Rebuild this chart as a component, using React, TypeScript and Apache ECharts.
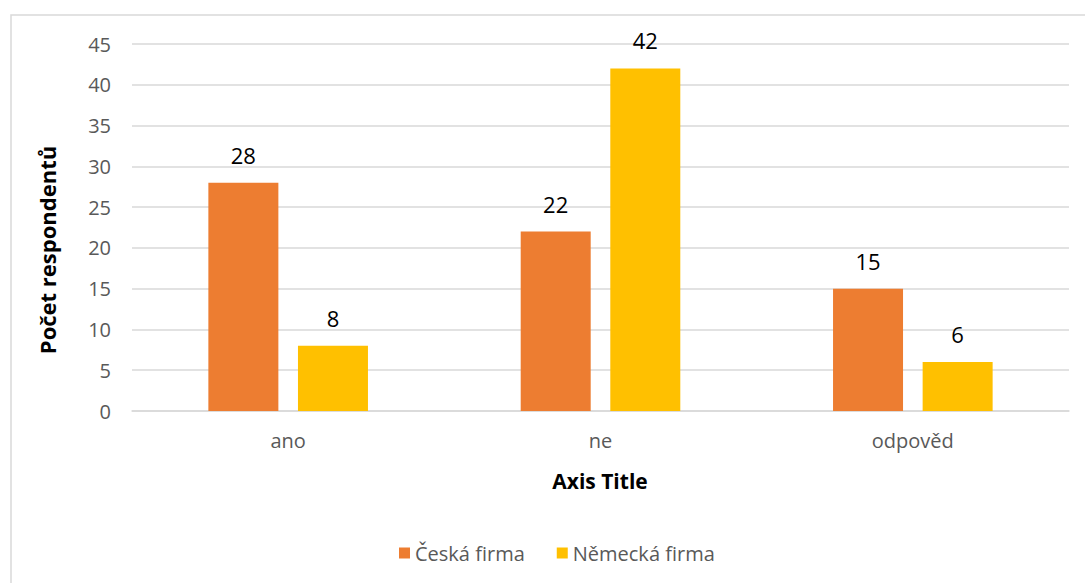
import React, { useEffect, useRef } from "react";
import * as echarts from "echarts";

const categories = ["ano", "ne", "odpověd"];
const ceskaFirma = [28, 22, 15];
const nemeckaFirma = [8, 42, 6];
const seriesNames = ["Česká firma", "Německá firma"];
const yAxisTitle = "Počet respondentů";
const xAxisTitle = "Axis Title";

const FONT = "'Open Sans', 'Noto Sans', sans-serif";

export default function App() {
  const ref = useRef<HTMLDivElement>(null);
  useEffect(() => {
    if (!ref.current) return;
    const chart = echarts.init(ref.current, undefined, { renderer: "svg" });
    const label = {
      show: true,
      position: "top",
      distance: 17,
      color: "#000000",
      fontSize: 22,
      fontFamily: FONT,
    };
    chart.setOption({
      animation: false,
      backgroundColor: "#ffffff",
      textStyle: { fontFamily: FONT },
      grid: { left: 132, right: 16, top: 44, bottom: 172, containLabel: false },
      legend: {
        data: seriesNames,
        top: 538,
        left: 394,
        itemWidth: 11,
        itemHeight: 11,
        itemGap: 32,
        icon: "rect",
        textStyle: { fontSize: 20, color: "#595959", fontFamily: FONT },
      },
      graphic: [
        {
          type: "rect",
          shape: { x: 11, y: 15, width: 1200, height: 700 },
          style: { fill: "none", stroke: "#d9d9d9", lineWidth: 1.5 },
          silent: true,
          z: -1,
        },
        {
          type: "text",
          x: 47,
          y: 250,
          rotation: Math.PI / 2,
          style: {
            text: yAxisTitle,
            fontSize: 22,
            fontWeight: "bold",
            fill: "#000000",
            fontFamily: FONT,
            align: "center",
            verticalAlign: "middle",
          },
        },
        {
          type: "text",
          x: 600,
          y: 481,
          style: {
            text: xAxisTitle,
            fontSize: 21,
            fontWeight: "bold",
            fill: "#000000",
            fontFamily: FONT,
            align: "center",
            verticalAlign: "middle",
          },
        },
      ],
      xAxis: {
        type: "category",
        data: categories,
        axisLine: { lineStyle: { color: "#d9d9d9", width: 1.5 } },
        axisTick: { show: false },
        axisLabel: { color: "#595959", fontSize: 20, margin: 19, fontFamily: FONT },
      },
      yAxis: {
        type: "value",
        min: 0,
        max: 45,
        interval: 5,
        axisLine: { show: false },
        axisTick: { show: false },
        axisLabel: { color: "#595959", fontSize: 20, margin: 21, fontFamily: FONT },
        splitLine: { lineStyle: { color: "#d9d9d9", width: 1.5 } },
      },
      series: [
        {
          name: seriesNames[0],
          type: "bar",
          data: ceskaFirma,
          itemStyle: { color: "#ED7D31" },
          barWidth: 70,
          barGap: "28%",
          label,
        },
        {
          name: seriesNames[1],
          type: "bar",
          data: nemeckaFirma,
          itemStyle: { color: "#FFC000" },
          barWidth: 70,
          barGap: "28%",
          label,
        },
      ],
    });
    return () => chart.dispose();
  }, []);
  return (
    <div
      ref={ref}
      style={{ position: "fixed", left: 0, top: 0, width: 1085, height: 583 }}
    />
  );
}
